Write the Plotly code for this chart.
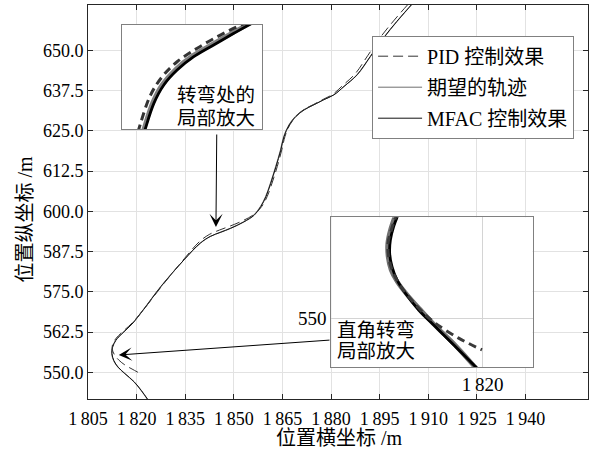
import plotly.graph_objects as go

# ---------------- data ----------------
x_ticks = [1805, 1820, 1835, 1850, 1865, 1880, 1895, 1910, 1925, 1940]
x_tick_labels = ["1\u2009805", "1\u2009820", "1\u2009835", "1\u2009850", "1\u2009865",
                 "1\u2009880", "1\u2009895", "1\u2009910", "1\u2009925", "1\u2009940"]
y_ticks = [550.0, 562.5, 575.0, 587.5, 600.0, 612.5, 625.0, 637.5, 650.0]
y_tick_labels = ["550.0", "562.5", "575.0", "587.5", "600.0", "612.5", "625.0", "637.5", "650.0"]

# desired trajectory
desired_x = [1823.6, 1821.4, 1819.1, 1816.3, 1814.2, 1812.9, 1812.3, 1812.5, 1813.5, 1815.5,
             1818.5, 1822.0, 1827.4, 1834.6, 1839.7, 1842.8, 1846.0, 1849.0, 1853.1, 1856.2,
             1858.2, 1859.8, 1861.3, 1862.9, 1864.4, 1865.4, 1867.0, 1869.0, 1871.6, 1874.7,
             1877.8, 1880.9, 1884.0, 1888.1, 1892.2, 1896.3, 1900.4, 1905.1, 1907.0]
desired_y = [541.2, 544.3, 547.1, 549.6, 551.6, 553.6, 555.8, 557.8, 559.9, 562.1,
             565.0, 569.4, 576.6, 584.9, 590.1, 592.2, 593.6, 594.8, 596.8, 598.9,
             601.5, 604.6, 608.8, 613.9, 619.1, 623.3, 626.9, 629.5, 631.6, 633.1,
             634.7, 636.2, 638.8, 642.4, 648.1, 653.9, 659.0, 664.4, 666.5]

# MFAC control result
mfac_x = [1823.7, 1821.5, 1819.2, 1816.4, 1814.3, 1813.0, 1812.4, 1812.6, 1813.6, 1815.6,
          1818.6, 1822.1, 1827.5, 1834.6, 1839.6, 1842.7, 1846.0, 1849.0, 1853.1, 1856.3,
          1858.3, 1859.9, 1861.4, 1863.0, 1864.5, 1865.5, 1867.1, 1869.1, 1871.7, 1874.7,
          1877.8, 1880.9, 1884.0, 1888.0, 1892.1, 1896.2, 1900.3, 1905.0, 1906.9]
mfac_y = [541.2, 544.3, 547.1, 549.6, 551.6, 553.6, 555.8, 557.8, 559.9, 562.1,
          565.0, 569.4, 576.6, 584.9, 590.1, 592.2, 593.5, 594.7, 596.7, 598.8,
          601.4, 604.5, 608.7, 613.8, 619.0, 623.2, 626.8, 629.4, 631.5, 633.1,
          634.7, 636.2, 638.8, 642.4, 648.1, 653.9, 659.0, 664.4, 666.5]

# PID control result
pid_x = [1820.4, 1818.6, 1816.5, 1814.6, 1813.2, 1812.5, 1812.6, 1813.7, 1815.8, 1818.8,
         1822.4, 1827.8, 1834.8, 1839.4, 1842.4, 1845.6, 1848.8, 1853.0, 1856.3, 1858.6,
         1860.3, 1861.8, 1863.4, 1864.8, 1865.8, 1867.3, 1869.2, 1871.6, 1874.6, 1877.6,
         1880.6, 1883.6, 1887.5, 1891.4, 1895.4, 1899.5, 1904.2, 1906.2]
pid_y = [550.0, 551.0, 552.2, 553.7, 555.4, 557.1, 558.7, 560.6, 562.7, 565.5,
         569.8, 576.8, 585.4, 590.6, 592.8, 594.2, 595.4, 597.2, 599.1, 601.5,
         604.6, 608.8, 613.9, 619.1, 623.3, 626.9, 629.5, 631.6, 633.2, 634.8,
         636.4, 639.1, 642.8, 648.5, 654.3, 659.4, 664.8, 667.0]

# zoom of the turn (inset 1)
in1_desired_x = [1841.13, 1841.26, 1841.74, 1842.31, 1843.07, 1844.03, 1845.18, 1846.34, 1847.20, 1847.57]
in1_desired_y = [589.60, 590.06, 591.52, 592.59, 593.46, 594.23, 594.91, 595.57, 596.04, 596.24]
in1_mfac_x = [1841.20, 1841.33, 1841.81, 1842.38, 1843.14, 1844.09, 1845.23, 1846.38, 1847.23, 1847.60]
in1_mfac_y = [589.60, 590.04, 591.48, 592.54, 593.40, 594.17, 594.85, 595.52, 596.00, 596.20]
in1_pid_x = [1840.90, 1841.05, 1841.62, 1842.29, 1843.14, 1844.29, 1845.43, 1846.57, 1846.95, 1847.30]
in1_pid_y = [589.80, 590.33, 591.96, 593.02, 593.88, 594.66, 595.32, 595.90, 596.06, 596.20]

# zoom of the right-angle turn (inset 2)
in2_desired_x = [1812.62, 1812.07, 1811.84, 1811.87, 1812.13, 1812.64, 1813.50, 1814.65, 1815.93, 1817.37, 1819.31, 1819.55]
in2_desired_y = [559.30, 557.70, 556.55, 555.39, 554.24, 553.25, 552.10, 550.80, 549.40, 548.00, 545.87, 545.60]
in2_mfac_x = [1812.85, 1812.35, 1812.07, 1812.01, 1812.21, 1812.64, 1813.36, 1814.50, 1815.93, 1817.37, 1819.37, 1819.60]
in2_mfac_y = [559.30, 557.99, 556.83, 555.68, 554.52, 553.37, 552.22, 550.77, 549.33, 547.89, 545.87, 545.60]
in2_pid_x = [1812.70, 1812.15, 1811.87, 1811.92, 1812.21, 1812.78, 1813.64, 1814.79, 1815.93, 1817.94, 1819.95]
in2_pid_y = [559.30, 557.70, 556.55, 555.39, 554.24, 553.09, 551.93, 550.63, 549.63, 548.33, 547.31]

# ---------------- styling ----------------
SERIF = "Liberation Serif, Noto Sans CJK SC, serif"
W, H = 590, 450
ML, MR, MT, MB = 87.5, 2.3, 5, 51
PW, PH = W - ML - MR, H - MT - MB


def px2paper(px, py):
    return (px - ML) / PW, 1 - (py - MT) / PH


fig = go.Figure()

# main curves
fig.add_trace(go.Scatter(x=desired_x, y=desired_y, mode="lines", name="期望的轨迹",
                         legendgroup="g2", legendrank=2,
                         line=dict(color="#6e6e6e", width=1, shape="spline", smoothing=1.0)))
fig.add_trace(go.Scatter(x=mfac_x, y=mfac_y, mode="lines", name="MFAC 控制效果",
                         legendgroup="g3", legendrank=3,
                         line=dict(color="#111111", width=1, shape="spline", smoothing=1.0)))
fig.add_trace(go.Scatter(x=pid_x, y=pid_y, mode="lines", name="PID 控制效果",
                         legendgroup="g1", legendrank=1,
                         line=dict(color="#333333", width=1, dash="10px,5px", shape="spline", smoothing=1.0)))

# inset 1
fig.add_trace(go.Scatter(x=in1_desired_x, y=in1_desired_y, mode="lines", showlegend=False,
                         xaxis="x2", yaxis="y2",
                         line=dict(color="#808080", width=4.5, shape="spline")))
fig.add_trace(go.Scatter(x=in1_mfac_x, y=in1_mfac_y, mode="lines", showlegend=False,
                         xaxis="x2", yaxis="y2",
                         line=dict(color="#000000", width=2.8, shape="spline")))
fig.add_trace(go.Scatter(x=in1_pid_x, y=in1_pid_y, mode="lines", showlegend=False,
                         xaxis="x2", yaxis="y2",
                         line=dict(color="#333333", width=3, dash="8px,5px", shape="spline")))

# inset 2
fig.add_trace(go.Scatter(x=in2_desired_x, y=in2_desired_y, mode="lines", showlegend=False,
                         xaxis="x3", yaxis="y3",
                         line=dict(color="#707070", width=4.5, shape="spline")))
fig.add_trace(go.Scatter(x=in2_mfac_x, y=in2_mfac_y, mode="lines", showlegend=False,
                         xaxis="x3", yaxis="y3",
                         line=dict(color="#000000", width=2.8, shape="spline")))
fig.add_trace(go.Scatter(x=in2_pid_x, y=in2_pid_y, mode="lines", showlegend=False,
                         xaxis="x3", yaxis="y3",
                         line=dict(color="#3a3a3a", width=3, dash="8px,5px", shape="spline")))

axis_common = dict(showline=True, linecolor="#262626", linewidth=1, mirror="ticks",
                   ticks="inside", ticklen=5, tickcolor="#262626", showgrid=True,
                   gridcolor="#e2e2e2", gridwidth=1, zeroline=False,
                   tickfont=dict(family=SERIF, size=18, color="#000000"))

in1_x0, in1_y1 = px2paper(121.7, 25)
in1_x1, in1_y0 = px2paper(261.7, 129)
in2_x0, in2_y1 = px2paper(331, 217.3)
in2_x1, in2_y0 = px2paper(532.3, 367.3)

inset_common = dict(showline=True, linecolor="#808080", linewidth=1, mirror=True,
                    zeroline=False, ticks="", fixedrange=True)

fig.update_layout(
    width=W, height=H,
    margin=dict(l=ML, r=MR, t=MT, b=MB, pad=0),
    paper_bgcolor="white", plot_bgcolor="white",
    font=dict(family=SERIF, size=18, color="#000000"),
    xaxis=dict(domain=[0, 1], range=[1805, 1959.3], tickvals=x_ticks, ticktext=x_tick_labels,
               ticklabelstandoff=3, **axis_common),
    yaxis=dict(domain=[0, 1], range=[541.7, 664.1], tickvals=y_ticks, ticktext=y_tick_labels,
               **axis_common),
    xaxis2=dict(domain=[in1_x0, in1_x1], anchor="y2", range=[1840, 1848],
                showgrid=False, showticklabels=False, **inset_common),
    yaxis2=dict(domain=[in1_y0, in1_y1], anchor="x2", range=[590, 596],
                showgrid=False, showticklabels=False, **inset_common),
    xaxis3=dict(domain=[in2_x0, in2_x1], anchor="y3", range=[1807, 1824.3],
                tickvals=[1820], ticktext=["1\u2009820"], showgrid=True, gridcolor="#d4d4d4",
                tickfont=dict(family=SERIF, size=19), **inset_common),
    yaxis3=dict(domain=[in2_y0, in2_y1], anchor="x3", range=[545.8, 558.8],
                tickvals=[550], ticktext=["550"], showgrid=True, gridcolor="#d4d4d4",
                tickfont=dict(family=SERIF, size=19), **inset_common),
    legend=dict(x=(371.7 - ML) / PW, y=1 - (35.7 - MT) / PH, xanchor="left", yanchor="top",
                bgcolor="white", bordercolor="#808080", borderwidth=1,
                font=dict(family=SERIF, size=20, color="#000000"),
                traceorder="grouped", tracegroupgap=2, itemwidth=44),
    showlegend=True,
)

annotations = []


def text_ann(txt, px, py, size=19.5, angle=0):
    ax_, ay_ = px2paper(px, py)
    annotations.append(dict(text=txt, x=ax_, y=ay_, xref="paper", yref="paper",
                            xanchor="center", yanchor="middle", showarrow=False,
                            textangle=angle, font=dict(family=SERIF, size=size, color="#000000")))


text_ann("转弯处的", 216, 95.6)
text_ann("局部放大", 216, 118)
text_ann("直角转弯", 376, 330)
text_ann("局部放大", 376, 351)
text_ann("位置横坐标 /m", 339, 437.5, size=20)
text_ann("位置纵坐标 /m", 24, 219, size=20, angle=-90)


def arrow_ann(head, tail):
    hx, hy = px2paper(*head)
    annotations.append(dict(text="", x=hx, y=hy, xref="paper", yref="paper",
                            showarrow=True, arrowhead=3, arrowsize=2.2, arrowwidth=1,
                            arrowcolor="#000000", ax=tail[0] - head[0], ay=tail[1] - head[1],
                            axref="pixel", ayref="pixel", standoff=0, startstandoff=0))


arrow_ann((215.5, 227), (216.3, 133))
arrow_ann((118.3, 355), (330.5, 340))

fig.update_layout(annotations=annotations)

fig.write_html("out.html")
